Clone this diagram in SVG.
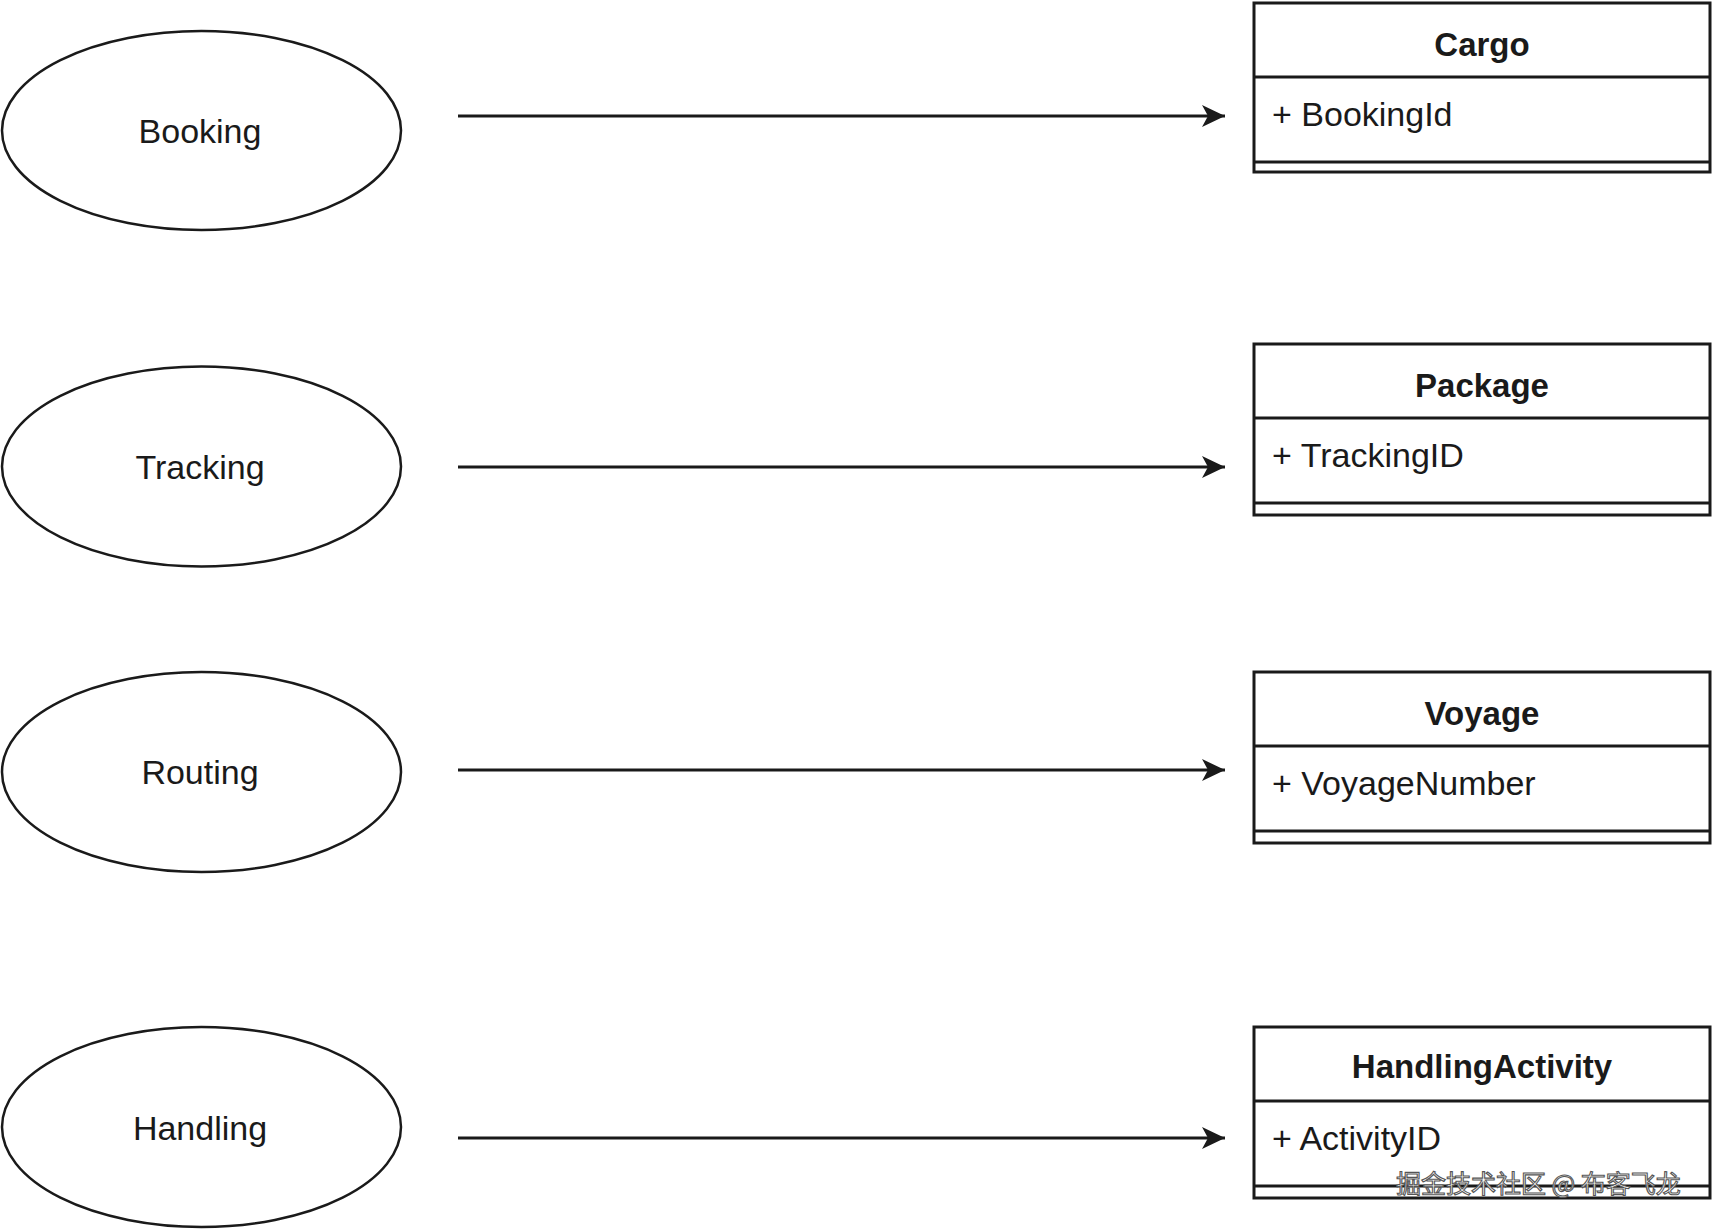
<svg xmlns="http://www.w3.org/2000/svg" width="1713" height="1230" viewBox="0 0 1713 1230">
<style>
.bg{fill:#fff}
.ell{fill:#fff;stroke:#1a1a1a;stroke-width:2.5}
.box{fill:#fff;stroke:#1a1a1a;stroke-width:3}
.sep{stroke:#1a1a1a;stroke-width:3;fill:none}
.lbl{font-family:"Liberation Sans",Arial,sans-serif;font-size:34px;fill:#1a1a1a;text-anchor:middle}
.hdr{font-family:"Liberation Sans",Arial,sans-serif;font-size:33px;font-weight:bold;fill:#1a1a1a;text-anchor:middle}
.attr{font-family:"Liberation Sans",Arial,sans-serif;font-size:34px;fill:#1a1a1a}
.edge{stroke:#1a1a1a;stroke-width:3;fill:none}
.wm{font-family:"Noto Sans CJK SC","Noto Sans",sans-serif;font-size:25px;fill:#fff;stroke:#555;stroke-width:1.1}
</style>
<defs>
<marker id="arrow" markerUnits="userSpaceOnUse" markerWidth="24" markerHeight="24" refX="23" refY="11" orient="auto">
<path d="M0,0 L23,11 L0,22 L6,11 Z" fill="#1a1a1a"/>
</marker>
</defs>
<rect class="bg" x="0" y="0" width="1713" height="1230"/>

<g id="booking">
<ellipse class="ell" cx="201.5" cy="130.5" rx="199.5" ry="99.5"/>
<text class="lbl" x="200" y="143">Booking</text>
</g>
<g id="tracking">
<ellipse class="ell" cx="201.5" cy="466.5" rx="199.5" ry="100"/>
<text class="lbl" x="200" y="479">Tracking</text>
</g>
<g id="routing">
<ellipse class="ell" cx="201.5" cy="772" rx="199.5" ry="100"/>
<text class="lbl" x="200" y="784">Routing</text>
</g>
<g id="handling">
<ellipse class="ell" cx="201.5" cy="1127" rx="199.5" ry="100"/>
<text class="lbl" x="200" y="1140">Handling</text>
</g>

<g id="cargo">
<rect class="box" x="1254" y="3" width="456" height="169"/>
<line class="sep" x1="1254" y1="77" x2="1710" y2="77"/>
<line class="sep" x1="1254" y1="162" x2="1710" y2="162"/>
<text class="hdr" x="1482" y="56">Cargo</text>
<text class="attr" x="1272" y="126">+ BookingId</text>
</g>
<g id="package">
<rect class="box" x="1254" y="344" width="456" height="171"/>
<line class="sep" x1="1254" y1="418" x2="1710" y2="418"/>
<line class="sep" x1="1254" y1="503" x2="1710" y2="503"/>
<text class="hdr" x="1482" y="397">Package</text>
<text class="attr" x="1272" y="467">+ TrackingID</text>
</g>
<g id="voyage">
<rect class="box" x="1254" y="672" width="456" height="171"/>
<line class="sep" x1="1254" y1="746" x2="1710" y2="746"/>
<line class="sep" x1="1254" y1="831" x2="1710" y2="831"/>
<text class="hdr" x="1482" y="725">Voyage</text>
<text class="attr" x="1272" y="795">+ VoyageNumber</text>
</g>
<g id="handlingactivity">
<rect class="box" x="1254" y="1027" width="456" height="171"/>
<line class="sep" x1="1254" y1="1101" x2="1710" y2="1101"/>
<line class="sep" x1="1254" y1="1186" x2="1710" y2="1186"/>
<text class="hdr" x="1482" y="1078">HandlingActivity</text>
<text class="attr" x="1272" y="1150">+ ActivityID</text>
</g>

<g id="connectors">
<line class="edge" x1="458" y1="116" x2="1225" y2="116" marker-end="url(#arrow)"/>
<line class="edge" x1="458" y1="467" x2="1225" y2="467" marker-end="url(#arrow)"/>
<line class="edge" x1="458" y1="770" x2="1225" y2="770" marker-end="url(#arrow)"/>
<line class="edge" x1="458" y1="1138" x2="1225" y2="1138" marker-end="url(#arrow)"/>
</g>

<text class="wm" x="1396" y="1193">掘金技术社区 @ 布客飞龙</text>
</svg>
